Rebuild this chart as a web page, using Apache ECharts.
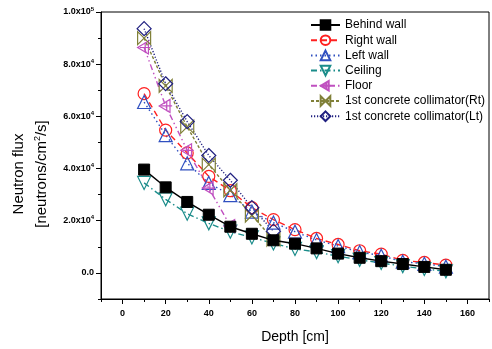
<!DOCTYPE html>
<html>
<head>
<meta charset="utf-8">
<script src="https://cdn.jsdelivr.net/npm/echarts@6/dist/echarts.min.js"></script>
<style>
  html, body { margin: 0; padding: 0; background: #fff; }
  #chart { width: 492px; height: 349px; }
</style>
</head>
<body>
<div id="chart"></div>
<script>
// depth [cm]
const depth = [10, 20, 30, 40, 50, 60, 70, 80, 90, 100, 110, 120, 130, 140, 150];
// neutron flux, in units of 1e4 neutrons/cm2/s
const behindWall = [3.96, 3.28, 2.72, 2.23, 1.77, 1.50, 1.25, 1.12, 0.94, 0.74, 0.58, 0.45, 0.34, 0.23, 0.12];
const rightWall  = [6.87, 5.47, 4.60, 3.70, 3.15, 2.50, 2.04, 1.66, 1.32, 1.09, 0.85, 0.72, 0.48, 0.40, 0.30];
const leftWall   = [6.55, 5.28, 4.20, 3.45, 2.98, 2.35, 1.93, 1.58, 1.26, 1.03, 0.80, 0.66, 0.43, 0.35, 0.24];
const ceiling    = [3.45, 2.82, 2.27, 1.90, 1.58, 1.36, 1.13, 0.92, 0.80, 0.64, 0.50, 0.38, 0.26, 0.15, 0.06];
const floor      = [8.64, 6.40, 4.70, 3.25, 1.80];
const collRt     = [9.00, 7.17, 5.60, 4.15, 3.17, 2.20, 1.28];
const collLt     = [9.36, 7.25, 5.80, 4.50, 3.55, 2.50, 1.60];

const xMajor = [0, 20, 40, 60, 80, 100, 120, 140, 160];
const yMajor = [0, 20000, 40000, 60000, 80000, 100000];

const FONT = '"Liberation Sans", Arial, sans-serif';

function pairs(vals) {
  return vals.map((v, i) => [depth[i], v * 1e4]);
}

function mkSeries(name, vals, color, dash, symbol, size, extra) {
  return Object.assign({
    name: name,
    type: 'line',
    data: pairs(vals),
    symbol: symbol,
    symbolSize: size,
    lineStyle: { color: color, width: 1.4, type: dash },
    itemStyle: { color: 'rgba(255,255,255,0)', borderColor: color, borderWidth: 1.2 },
    emphasis: { disabled: true },
    z: 3
  }, extra || {});
}

function yLabel(v) {
  if (v === 0) return '{m|0.0}';
  const e = Math.floor(Math.log10(v) + 1e-9);
  const m = (v / Math.pow(10, e)).toFixed(1);
  return '{m|' + m + 'x10}{s|' + e + '}';
}

const chart = echarts.init(document.getElementById('chart'));

const option = {
  animation: false,
  grid: { left: 101, top: 12, right: -7, bottom: 46, show: true, borderColor: '#000', borderWidth: 1 },
  legend: {
    orient: 'vertical',
    left: 305,
    top: 14,
    itemWidth: 29,
    itemHeight: 12,
    itemGap: 3.2,
    textStyle: { fontFamily: FONT, fontSize: 12, color: '#000' },
    data: ['Behind wall', 'Right wall', 'Left wall', 'Ceiling', 'Floor',
           '1st concrete collimator(Rt)', '1st concrete collimator(Lt)']
  },
  xAxis: [{
    type: 'value', min: -10, max: 170, interval: 10,
    name: 'Depth [cm]', nameLocation: 'middle', nameGap: 31,
    nameTextStyle: { fontFamily: FONT, fontSize: 14, color: '#000' },
    axisLine: { onZero: false, lineStyle: { color: '#000', width: 1 } },
    axisTick: { length: 3, lineStyle: { color: '#000' } },
    axisLabel: {
      margin: 10, color: '#000', fontFamily: FONT, fontSize: 9, fontWeight: 'bold',
      formatter: v => (v % 20 === 0 && v >= 0 && v <= 160) ? String(v) : ''
    },
    splitLine: { show: false }
  }, {
    type: 'value', min: -10, max: 170, position: 'bottom',
    axisLine: { show: false, onZero: false },
    axisTick: { show: true, length: 5, customValues: xMajor, lineStyle: { color: '#000' } },
    axisLabel: { show: false },
    splitLine: { show: false }
  }],
  yAxis: [{
    type: 'value', min: -10000, max: 100000, interval: 10000,
    axisLine: { show: true, onZero: false, lineStyle: { color: '#000', width: 1 } },
    axisTick: { show: true, length: 3, lineStyle: { color: '#000' } },
    axisLabel: {
      margin: 7, color: '#000',
      formatter: v => (v % 20000 === 0 && v >= 0) ? yLabel(v) : '',
      rich: {
        m: { fontFamily: FONT, fontSize: 9, fontWeight: 'bold', color: '#000' },
        s: { fontFamily: FONT, fontSize: 6, fontWeight: 'bold', color: '#000', verticalAlign: 'top', padding: [0, 0, 6, 0] }
      }
    },
    splitLine: { show: false }
  }, {
    type: 'value', min: -10000, max: 100000, position: 'left',
    axisLine: { show: false, onZero: false },
    axisTick: { show: true, length: 5, customValues: yMajor, lineStyle: { color: '#000' } },
    axisLabel: { show: false },
    splitLine: { show: false }
  }],
  graphic: [{
    type: 'text', x: 19, y: 174, rotation: Math.PI / 2,
    style: { text: 'Neutron flux', font: '15px ' + FONT, fill: '#000', textAlign: 'center', textVerticalAlign: 'middle' }
  }, {
    type: 'text', x: 42, y: 174, rotation: Math.PI / 2,
    style: {
      text: '{a|[neutrons/cm}{s|2}{a|/s]}',
      textAlign: 'center', textVerticalAlign: 'middle',
      rich: {
        a: { fontFamily: FONT, fontSize: 15, fill: '#000' },
        s: { fontFamily: FONT, fontSize: 9, fill: '#000', padding: [0, 0, 8, 0] }
      }
    }
  }],
  series: [
    mkSeries('Behind wall', behindWall, '#000000', 'solid', 'rect', 11,
      { itemStyle: { color: '#000', borderColor: '#000', borderWidth: 1 }, z: 4 }),
    mkSeries('Right wall', rightWall, '#ff2020', [6, 4], 'circle', 12),
    mkSeries('Left wall', leftWall, '#3050c0', [1.5, 3], 'triangle', 13),
    mkSeries('Ceiling', ceiling, '#1a8c8a', [6, 3, 1.5, 3], 'triangle', 13, { symbolRotate: 180 }),
    mkSeries('Floor', floor, '#c050c0', [6, 3, 1.5, 3, 1.5, 3], 'path://M0,5 L10,0 L10,10 Z M2,5 L12,5 M7,1 L7,9', 13),
    mkSeries('1st concrete collimator(Rt)', collRt, '#808038', [3, 2], 'path://M0,0 L10,10 L10,0 L0,10 Z', 13),
    mkSeries('1st concrete collimator(Lt)', collLt, '#202080', [1.2, 1.8], 'diamond', 14)
  ]
};

chart.setOption(option);
</script>
</body>
</html>
